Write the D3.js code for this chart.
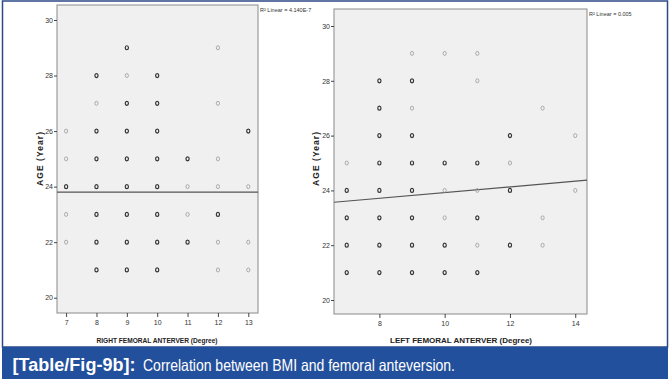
<!DOCTYPE html>
<html lang="en">
<head>
<meta charset="UTF-8" />
<title>Fig 9b</title>
<style>
  body { margin: 0; background: #fff; }
  svg { display: block; font-family: "Liberation Sans Narrow", "Liberation Sans", Arial, sans-serif; }
</style>
</head>
<body>
<script src="https://cdn.jsdelivr.net/npm/d3@7"></script>
<div id="app"></div>
<script>
// data: degree, age, bold = several cases overlap
const rightX    = [9,12, 8,9,10, 8,9,10,12, 7,8,9,10,13, 7,8,9,10,11,12, 7,8,9,10,11,12,13, 7,8,9,10,11,12, 7,8,9,10,11,12,13, 8,9,10,12,13];
const rightAge  = [29,29, 28,28,28, 27,27,27,27, 26,26,26,26,26, 25,25,25,25,25,25, 24,24,24,24,24,24,24, 23,23,23,23,23,23, 22,22,22,22,22,22,22, 21,21,21,21,21];
const rightBold = [1,0, 1,0,1, 0,1,1,0, 0,1,1,1,1, 0,1,1,1,1,0, 1,1,1,1,0,0,0, 0,1,1,1,0,1, 0,1,1,1,1,0,0, 1,1,1,0,0];

const leftX    = [9,10,11, 8,9,11, 8,9,13, 8,9,12,14, 7,8,9,10,11,12, 7,8,9,10,11,12,14, 7,8,9,10,11,13, 7,8,9,10,11,12,13, 7,8,9,10,11];
const leftAge  = [29,29,29, 28,28,28, 27,27,27, 26,26,26,26, 25,25,25,25,25,25, 24,24,24,24,24,24,24, 23,23,23,23,23,23, 22,22,22,22,22,22,22, 21,21,21,21,21];
const leftBold = [0,0,0, 1,1,0, 1,0,0, 1,1,1,0, 0,1,1,1,1,0, 1,1,1,0,0,1,0, 1,1,1,0,1,0, 1,1,1,1,0,1,0, 1,1,1,1,1];

const rightTicksX = [7, 8, 9, 10, 11, 12, 13];
const leftTicksX  = [8, 10, 12, 14];
const ageTicks    = [20, 22, 24, 26, 28, 30];

// linear fits [intercept, slope]
const rightFit = [23.8, 0];
const leftFit  = [22.88, 0.104];
const rightR2 = "R\u00b2 Linear = 4.140E-7";
const leftR2  = "R\u00b2 Linear = 0.005";

const W = 670, H = 383;
const svg = d3.select("#app").append("svg").attr("width", W).attr("height", H);

svg.append("rect").attr("x", 2.5).attr("y", 1).attr("width", 665).attr("height", 346)
  .attr("fill", "#fff").attr("stroke", "#2b4a86").attr("stroke-width", 1.5);

function panel(opt) {
  const x = d3.scaleLinear().domain(opt.xDomain).range([opt.box[0], opt.box[1]]);
  const y = d3.scaleLinear().domain(opt.yDomain).range([opt.box[3], opt.box[2]]);
  const g = svg.append("g");

  g.append("rect")
    .attr("x", opt.box[0]).attr("y", opt.box[2])
    .attr("width", opt.box[1] - opt.box[0]).attr("height", opt.box[3] - opt.box[2])
    .attr("fill", "#f0f0f0").attr("stroke", "#8a8a8a").attr("stroke-width", 1);

  const yAxis = g.append("g").attr("transform", `translate(${opt.box[0]},0)`)
    .call(d3.axisLeft(y).tickValues(ageTicks).tickFormat(d3.format("d")).tickSize(3).tickPadding(1));
  const xAxis = g.append("g").attr("transform", `translate(0,${opt.box[3]})`)
    .call(d3.axisBottom(x).tickValues(opt.ticksX).tickFormat(d3.format("d")).tickSize(4).tickPadding(3));
  [yAxis, xAxis].forEach(a => {
    a.select(".domain").remove();
    a.selectAll("line").attr("stroke", "#444");
    a.selectAll("text").attr("fill", "#333").style("font-size", "7px");
  });

  // fit line
  const fx = opt.xDomain;
  g.append("line")
    .attr("x1", x(fx[0])).attr("y1", y(opt.fit[0] + opt.fit[1] * fx[0]))
    .attr("x2", x(fx[1])).attr("y2", y(opt.fit[0] + opt.fit[1] * fx[1]))
    .attr("stroke", "#555").attr("stroke-width", 1.2);

  g.selectAll("ellipse.pt").data(opt.xs.map((v, i) => [v, opt.ages[i], opt.bold[i]]))
    .enter().append("ellipse").attr("class", "pt")
    .attr("cx", d => x(d[0])).attr("cy", d => y(d[1]))
    .attr("rx", 1.6).attr("ry", 2)
    .attr("fill", "none")
    .attr("stroke", d => d[2] ? "#333" : "#999")
    .attr("stroke-width", d => d[2] ? 1.2 : 0.8);

  g.append("text").attr("x", opt.box[1] + 2).attr("y", opt.r2y)
    .style("font-size", "5.5px").attr("fill", "#333").text(opt.r2);

  g.append("text")
    .attr("transform", `translate(${opt.yTitleX},159) rotate(-90)`)
    .attr("text-anchor", "middle").style("font-size", "8.5px").style("font-weight", "bold")
    .attr("fill", "#222").attr("textLength", 54).attr("lengthAdjust", "spacing")
    .text("AGE (Year)");

  g.append("text").attr("x", opt.xTitleX).attr("y", 343)
    .attr("text-anchor", "middle").style("font-size", "8px").style("font-weight", "bold")
    .attr("fill", "#222").attr("textLength", opt.xTitleW).attr("lengthAdjust", "spacingAndGlyphs")
    .text(opt.xTitle);
}

panel({
  box: [57, 258, 5, 313], xDomain: [6.7, 13.32], yDomain: [19.45, 30.54],
  ticksX: rightTicksX, xs: rightX, ages: rightAge, bold: rightBold, fit: rightFit,
  r2: rightR2, r2y: 12, yTitleX: 43, xTitleX: 157, xTitleW: 121,
  xTitle: "RIGHT FEMORAL ANTERVER (Degree)"
});
panel({
  box: [334, 587, 9, 314], xDomain: [6.61, 14.36], yDomain: [19.49, 30.62],
  ticksX: leftTicksX, xs: leftX, ages: leftAge, bold: leftBold, fit: leftFit,
  r2: leftR2, r2y: 16, yTitleX: 319, xTitleX: 461, xTitleW: 142,
  xTitle: "LEFT FEMORAL ANTERVER (Degree)"
});

// caption band
svg.append("rect").attr("x", 2).attr("y", 347).attr("width", 666).attr("height", 32).attr("fill", "#23509c");
const capFont = "'Liberation Sans', Arial, sans-serif";
svg.append("text").attr("x", 12.5).attr("y", 371)
  .style("font-family", capFont).style("font-size", "18px").style("font-weight", "bold")
  .attr("fill", "#fff").attr("textLength", 123).text("[Table/Fig-9b]:");
svg.append("text").attr("x", 143).attr("y", 371)
  .style("font-family", capFont).style("font-size", "16.5px")
  .attr("fill", "#fff").attr("textLength", 312).attr("lengthAdjust", "spacingAndGlyphs")
  .text("Correlation between BMI and femoral anteversion.");
</script>
</body>
</html>
